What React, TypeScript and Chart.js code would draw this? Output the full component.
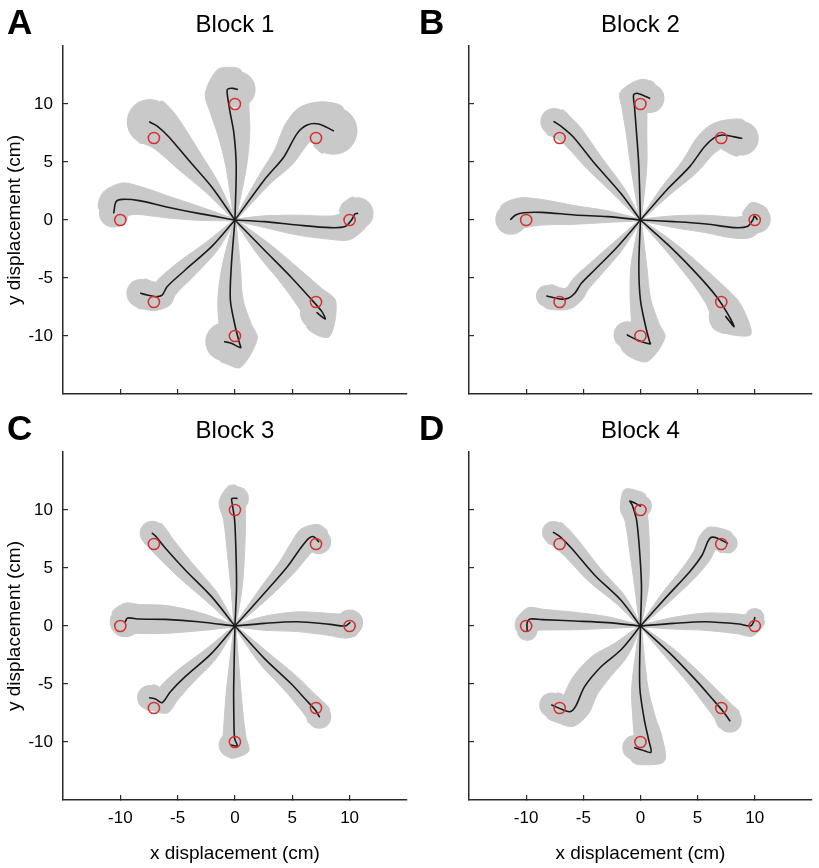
import React, { useEffect, useRef } from 'react';
import { Chart, registerables } from 'chart.js';

Chart.register(...registerables);

const FONT = "'Liberation Sans', Arial, Helvetica, sans-serif";

const AXIS_TICKS = [-10, -5, 0, 5, 10];
const AXIS_MIN = -15;
const AXIS_MAX = 15;

const TARGET_X = [10, 7.07, 0, -7.07, -10, -7.07, 0, 7.07];
const TARGET_Y = [0, 7.07, 10, 7.07, 0, -7.07, -10, -7.07];

const BLOCK_TITLES = ['Block 1', 'Block 2', 'Block 3', 'Block 4'];
const PANEL_LETTERS = ['A', 'B', 'C', 'D'];
const X_LABEL = 'x displacement (cm)';
const Y_LABEL = 'y displacement (cm)';

// direction order: right, up-right, up, up-left, left, down-left, down, down-right
const BLOCK1_X = [
  [0, 2.56, 5.43, 8.3, 9.6, 10.17, 10.46, 10.69],
  [0, 2.56, 4.28, 5.43, 6.29, 7.3, 8.59],
  [0, 0.11, -0.09, -0.46, -0.69, -0.6, -0.17, 0.2],
  [0, -2.04, -4.05, -5.78, -6.78, -7.44],
  [0, -3.19, -6.06, -8.36, -9.8, -10.37, -10.57],
  [0, -2.04, -4.34, -5.92, -6.35, -6.93, -7.64, -8.22],
  [0, -0.32, -0.4, 0.03, 0.4, 0.49, -0.32, -0.89],
  [0, 2.56, 4.86, 6.58, 7.59, 7.87, 7.16],
];
const BLOCK1_Y = [
  [0, -0.14, -0.43, -0.66, -0.57, 0, 0.52, 0.57],
  [0, 3.45, 5.46, 7.47, 8.19, 8.28, 7.7],
  [0, 4.6, 7.47, 9.48, 11.06, 11.3, 11.35, 11.26],
  [0, 2.87, 5.17, 7.18, 8.1, 8.45],
  [0, 0.57, 1.15, 1.67, 1.78, 1.58, 0.63],
  [0, -2.3, -4.31, -5.75, -6.47, -6.61, -6.47, -6.32],
  [0, -4.02, -6.9, -9.2, -10.63, -11.0, -10.63, -10.49],
  [0, -2.59, -4.89, -6.75, -7.9, -8.53, -7.99],
];
const BLOCK1_SPREAD = [
  [0.08, 0.5, 0.85, 1.0, 1.2, 1.35, 1.4, 1.4],
  [0.08, 0.6, 1.0, 1.3, 1.65, 1.95, 2.1],
  [0.08, 0.9, 1.4, 1.7, 1.9, 1.9, 1.8, 1.6],
  [0.08, 0.7, 1.2, 1.6, 1.9, 2.0],
  [0.08, 0.6, 0.95, 1.2, 1.4, 1.4, 1.3],
  [0.08, 0.6, 0.9, 1.0, 1.1, 1.2, 1.25, 1.25],
  [0.08, 0.8, 1.1, 1.4, 1.6, 1.7, 1.8, 1.7],
  [0.08, 0.7, 1.0, 1.3, 1.5, 1.6, 1.5],
];

const BLOCK2_X = [
  [0, 2.87, 5.75, 8.19, 9.34, 9.83, 9.97, 10.2],
  [0, 2.3, 4.31, 5.6, 6.47, 7.18, 8.85],
  [0, -0.14, -0.34, -0.52, -0.6, -0.29, 0.8],
  [0, -1.72, -4.02, -5.89, -6.9, -7.56],
  [0, -2.87, -5.75, -8.62, -10.2, -10.92, -11.35],
  [0, -2.01, -4.02, -5.17, -5.75, -6.32, -7.04, -8.19],
  [0, -0.14, 0, 0.46, 0.8, 0.86, -0.29, -1.15],
  [0, 2.59, 4.89, 6.61, 7.61, 8.19, 7.47],
];
const BLOCK2_Y = [
  [0, -0.14, -0.34, -0.66, -0.57, 0, 0.34, 0.06],
  [0, 2.59, 4.6, 6.32, 7.1, 7.33, 7.04],
  [0, 4.6, 7.47, 9.77, 10.78, 10.92, 10.49],
  [0, 2.3, 4.89, 7.18, 8.05, 8.48],
  [0, 0.29, 0.43, 0.66, 0.63, 0.43, 0.06],
  [0, -2.3, -4.31, -5.46, -6.32, -6.75, -6.81, -6.55],
  [0, -4.02, -6.9, -9.2, -10.49, -10.69, -10.34, -9.91],
  [0, -2.3, -4.6, -6.55, -8.05, -9.2, -8.33],
];
const BLOCK2_SPREAD = [
  [0.08, 0.5, 0.75, 0.9, 1.0, 1.1, 1.2, 1.2],
  [0.08, 0.5, 0.8, 1.0, 1.1, 1.25, 1.5],
  [0.08, 0.7, 0.9, 1.1, 1.2, 1.2, 1.3],
  [0.08, 0.5, 0.8, 1.0, 1.15, 1.2],
  [0.08, 0.5, 0.8, 1.1, 1.3, 1.35, 1.35],
  [0.08, 0.5, 0.7, 0.8, 0.85, 0.9, 0.95, 0.95],
  [0.08, 0.7, 0.9, 1.2, 1.4, 1.5, 1.6, 1.2],
  [0.08, 0.5, 0.8, 1.1, 1.4, 1.6, 1.5],
];

const BLOCK3_X = [
  [0, 2.56, 5.43, 8.3, 9.6, 10.03],
  [0, 2.56, 4.57, 5.72, 6.44, 6.87, 7.3],
  [0, 0.14, 0.09, -0.03, -0.29, -0.26, 0.17],
  [0, -2.04, -4.34, -6.06, -6.93, -7.21],
  [0, -3.19, -6.06, -8.36, -9.37, -9.57],
  [0, -2.04, -4.34, -5.63, -6.35, -6.93, -7.44],
  [0, -0.11, -0.09, -0.03, 0.2, -0.32],
  [0, 2.56, 4.86, 6.29, 7.01, 7.36],
];
const BLOCK3_Y = [
  [0, 0.23, 0.37, 0.14, 0, 0.29],
  [0, 2.82, 5.11, 6.7, 7.56, 7.7, 7.27],
  [0, 3.39, 6.26, 9.14, 10.86, 11.0, 11.0],
  [0, 2.53, 4.83, 6.7, 7.76, 7.99],
  [0, 0.37, 0.57, 0.6, 0.69, 0.37],
  [0, -2.36, -4.37, -5.66, -6.61, -6.29, -6.18],
  [0, -5.23, -8.1, -9.68, -10.34, -10.26],
  [0, -2.79, -4.94, -6.47, -7.24, -7.82],
];
const BLOCK3_SPREAD = [
  [0.08, 0.6, 0.85, 0.95, 1.05, 1.15],
  [0.08, 0.55, 0.8, 0.95, 1.05, 1.1, 1.1],
  [0.08, 0.5, 0.75, 0.95, 1.1, 1.1, 1.05],
  [0.08, 0.6, 0.85, 1.0, 1.1, 1.1],
  [0.08, 0.8, 1.2, 1.25, 1.3, 1.35],
  [0.08, 0.6, 0.85, 0.95, 1.0, 1.05, 1.1],
  [0.08, 0.6, 0.85, 1.0, 1.1, 1.1],
  [0.08, 0.6, 0.8, 0.9, 1.0, 1.05],
];

const BLOCK4_X = [
  [0, 2.87, 5.75, 8.62, 9.63, 9.91, 10.0],
  [0, 2.3, 4.31, 5.4, 5.89, 6.18, 6.75, 7.61],
  [0, 0.09, -0.06, -0.34, -0.72, -0.92, -0.43, 0],
  [0, -1.72, -4.02, -6.03, -7.04, -7.61],
  [0, -2.87, -5.75, -8.62, -9.63, -9.91, -9.91],
  [0, -1.72, -3.45, -4.89, -5.66, -6.18, -6.9, -7.76],
  [0, -0.06, 0.34, 0.72, 0.92, 0.14, -0.49],
  [0, 2.59, 4.89, 6.32, 7.18, 7.82],
];
const BLOCK4_Y = [
  [0, 0.23, 0.37, 0.17, 0, 0.37, 0.72],
  [0, 2.53, 4.68, 6.12, 7.27, 7.64, 7.56, 7.13],
  [0, 3.39, 6.26, 9.14, 10.43, 10.78, 10.57, 10.34],
  [0, 2.24, 4.4, 6.7, 7.7, 8.07],
  [0, 0.29, 0.43, 0.55, 0.6, 0.29, -0.4],
  [0, -2.07, -3.51, -5.23, -6.9, -7.39, -7.18, -6.81],
  [0, -5.23, -8.1, -9.83, -10.89, -10.69, -10.49],
  [0, -2.36, -4.71, -6.32, -7.3, -8.16],
];
const BLOCK4_SPREAD = [
  [0.08, 0.5, 0.75, 0.85, 0.9, 0.9, 0.85],
  [0.08, 0.5, 0.7, 0.8, 0.85, 0.9, 0.9, 0.9],
  [0.08, 0.6, 0.85, 1.0, 1.1, 1.1, 1.1, 1.0],
  [0.08, 0.5, 0.75, 0.9, 1.0, 1.0],
  [0.08, 0.5, 0.75, 0.9, 1.0, 1.0, 0.9],
  [0.08, 0.8, 1.2, 1.3, 1.3, 1.3, 1.2, 1.1],
  [0.08, 0.7, 1.0, 1.2, 1.4, 1.3, 1.1],
  [0.08, 0.5, 0.7, 0.85, 0.95, 1.05],
];

const BLOCKS_X = [BLOCK1_X, BLOCK2_X, BLOCK3_X, BLOCK4_X];
const BLOCKS_Y = [BLOCK1_Y, BLOCK2_Y, BLOCK3_Y, BLOCK4_Y];
const BLOCKS_SPREAD = [BLOCK1_SPREAD, BLOCK2_SPREAD, BLOCK3_SPREAD, BLOCK4_SPREAD];

const BAND_COLOR = 'rgb(201,201,201)';
const LINE_COLOR = '#1a1a1a';
const TARGET_COLOR = '#d3302f';
const AXIS_COLOR = '#2a2a2a';

const COL_LEFT = [0, 406];
const COL_WIDTH = [414, 413];
const ROW_TOP = [0, 406];
const ROW_HEIGHT = [420, 462];
const LETTER_X = [7, 13];

// band outline: mean path offset by the spread on both sides (mean ± spread)
function bandOutline(xs: number[], ys: number[], sp: number[]) {
  const n = xs.length;
  const left: { x: number; y: number }[] = [];
  const right: { x: number; y: number }[] = [];
  for (let i = 0; i < n; i++) {
    const a = Math.max(0, i - 1);
    const b = Math.min(n - 1, i + 1);
    let tx = xs[b] - xs[a];
    let ty = ys[b] - ys[a];
    const len = Math.hypot(tx, ty) || 1;
    tx /= len;
    ty /= len;
    const nx = -ty;
    const ny = tx;
    left.push({ x: xs[i] + nx * sp[i], y: ys[i] + ny * sp[i] });
    right.push({ x: xs[i] - nx * sp[i], y: ys[i] - ny * sp[i] });
  }
  return left.concat(right.reverse());
}

function Panel({ index }: { index: number }) {
  const ref = useRef<HTMLCanvasElement | null>(null);
  const col = index % 2;
  const row = Math.floor(index / 2);
  const width = COL_WIDTH[col];
  const height = ROW_HEIGHT[row];

  useEffect(() => {
    const canvas = ref.current;
    if (!canvas) return;
    const xs = BLOCKS_X[index];
    const ys = BLOCKS_Y[index];
    const spreads = BLOCKS_SPREAD[index];

    const unitPx = (chart: any, v: number) => {
      const sx = chart.scales.x;
      return Math.abs(sx.getPixelForValue(v) - sx.getPixelForValue(0));
    };

    const datasets: any[] = [];
    xs.forEach((xArr, k) => {
      datasets.push({
        data: bandOutline(xArr, ys[k], spreads[k]),
        showLine: true,
        fill: 'shape',
        borderColor: BAND_COLOR,
        backgroundColor: BAND_COLOR,
        borderWidth: 1,
        tension: 0.3,
        pointRadius: 0,
        pointHoverRadius: 0,
        order: 4,
      });
    });
    const endSpread = spreads.map((s) => s[s.length - 1]);
    datasets.push({
      data: xs.map((xArr, k) => ({ x: xArr[xArr.length - 1], y: ys[k][ys[k].length - 1] })),
      showLine: false,
      pointRadius: (ctx: any) => unitPx(ctx.chart, endSpread[ctx.dataIndex] || 0),
      pointHoverRadius: (ctx: any) => unitPx(ctx.chart, endSpread[ctx.dataIndex] || 0),
      pointBorderWidth: 0,
      borderWidth: 0,
      borderColor: BAND_COLOR,
      backgroundColor: BAND_COLOR,
      pointBackgroundColor: BAND_COLOR,
      order: 3,
    });
    xs.forEach((xArr, k) => {
      datasets.push({
        data: xArr.map((x, i) => ({ x, y: ys[k][i] })),
        showLine: true,
        borderColor: LINE_COLOR,
        backgroundColor: LINE_COLOR,
        borderWidth: 1.6,
        borderCapStyle: 'round',
        borderJoinStyle: 'round',
        tension: 0.3,
        pointRadius: 0,
        pointHoverRadius: 0,
        order: 2,
      });
    });
    datasets.push({
      data: TARGET_X.map((x, i) => ({ x, y: TARGET_Y[i] })),
      showLine: false,
      pointRadius: 5.6,
      pointHoverRadius: 5.6,
      pointBorderWidth: 1.5,
      borderColor: TARGET_COLOR,
      pointBorderColor: TARGET_COLOR,
      backgroundColor: 'rgba(0,0,0,0)',
      pointBackgroundColor: 'rgba(0,0,0,0)',
      order: 1,
    });

    const showXLabels = row === 1;
    const showYLabels = col === 0;

    const letterPlugin = {
      id: 'panelLetter',
      afterDraw(chart: any) {
        const c = chart.ctx;
        c.save();
        c.font = `bold 35px ${FONT}`;
        c.fillStyle = '#000';
        c.textBaseline = 'alphabetic';
        c.textAlign = 'left';
        c.fillText(PANEL_LETTERS[index], LETTER_X[col], 34);
        c.restore();
      },
    };

    const chart = new Chart(canvas, {
      type: 'scatter',
      data: { datasets },
      plugins: [letterPlugin],
      options: {
        animation: false,
        responsive: false,
        events: [],
        layout: { padding: { left: 0, top: 0, bottom: 0, right: width - 63 - 348 } },
        plugins: {
          legend: { display: false },
          tooltip: { enabled: false },
          filler: { propagate: false },
          title: {
            display: true,
            text: BLOCK_TITLES[index],
            fullSize: false,
            color: '#000',
            font: { family: FONT, size: 24, weight: 'normal', lineHeight: 1.2 },
            padding: { top: 11, bottom: 6.2 },
          },
        },
        scales: {
          x: {
            type: 'linear',
            min: AXIS_MIN,
            max: AXIS_MAX,
            afterBuildTicks: (axis: any) => {
              axis.ticks = AXIS_TICKS.map((v) => ({ value: v }));
            },
            afterFit: (axis: any) => {
              axis.height = row === 1 ? 68 : 26;
            },
            ticks: {
              display: showXLabels,
              color: '#000',
              font: { family: FONT, size: 17 },
              padding: 13,
              maxRotation: 0,
              autoSkip: false,
            },
            grid: {
              display: true,
              drawOnChartArea: false,
              drawTicks: true,
              tickLength: -5,
              color: AXIS_COLOR,
              lineWidth: 1.2,
            },
            border: { display: true, color: AXIS_COLOR, width: 1.5 },
            title: {
              display: showXLabels,
              text: X_LABEL,
              color: '#000',
              font: { family: FONT, size: 19, lineHeight: 1.2 },
              padding: { top: 0, bottom: 3 },
            },
          },
          y: {
            type: 'linear',
            min: AXIS_MIN,
            max: AXIS_MAX,
            afterBuildTicks: (axis: any) => {
              axis.ticks = AXIS_TICKS.map((v) => ({ value: v }));
            },
            afterFit: (axis: any) => {
              axis.width = 63;
            },
            ticks: {
              display: showYLabels,
              color: '#000',
              font: { family: FONT, size: 17 },
              padding: 15,
              autoSkip: false,
            },
            grid: {
              display: true,
              drawOnChartArea: false,
              drawTicks: true,
              tickLength: -5,
              color: AXIS_COLOR,
              lineWidth: 1.2,
            },
            border: { display: true, color: AXIS_COLOR, width: 1.5 },
            title: {
              display: showYLabels,
              text: Y_LABEL,
              color: '#000',
              font: { family: FONT, size: 19, lineHeight: 1.2 },
              padding: { top: 3, bottom: 0 },
            },
          },
        },
      } as any,
    });
    return () => chart.destroy();
  }, [index]);

  return (
    <canvas
      ref={ref}
      width={width}
      height={height}
      style={{
        position: 'absolute',
        left: COL_LEFT[col],
        top: ROW_TOP[row],
        width,
        height,
      }}
    />
  );
}

export default function App() {
  return (
    <div
      style={{
        position: 'absolute',
        left: 0,
        top: 0,
        width: 819,
        height: 868,
        background: '#fff',
        overflow: 'hidden',
      }}
    >
      {[0, 1, 2, 3].map((i) => (
        <Panel key={i} index={i} />
      ))}
    </div>
  );
}
